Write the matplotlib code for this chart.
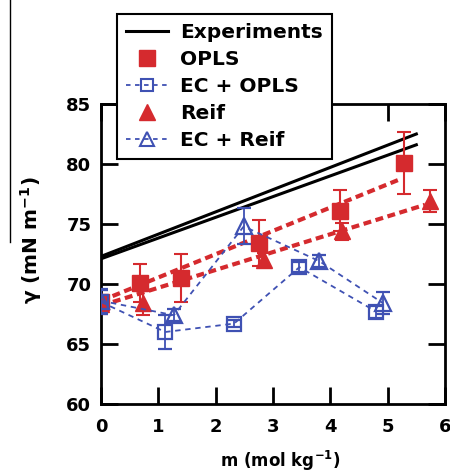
import matplotlib
matplotlib.use("Agg")
import matplotlib.pyplot as plt
from matplotlib.lines import Line2D

plt.rcParams["font.family"] = ["DejaVu Sans"]
plt.rcParams["font.weight"] = "bold"
plt.rcParams["mathtext.fontset"] = "dejavusans"
plt.rcParams["mathtext.default"] = "bf"

RED = "#d52a2e"
BLUE = "#3f51b3"

# experiments: two straight lines
exp_x = [0.0, 5.5]
exp_a_y = [72.3, 82.5]
exp_b_y = [72.1, 81.6]

# OPLS
opls_x = [0.0, 0.68, 1.40, 2.76, 4.16, 5.29]
opls_y = [68.5, 70.1, 70.5, 73.4, 76.1, 80.1]
opls_err = [1.0, 1.6, 2.0, 1.9, 1.7, 2.6]
opls_fit_x = [0.0, 5.2]
opls_fit_y = [68.6, 78.7]

# Reif
reif_x = [0.0, 0.74, 2.84, 4.21, 5.73]
reif_y = [68.3, 68.4, 72.0, 74.4, 76.9]
reif_err = [0.8, 1.0, 0.6, 0.7, 0.9]
reif_fit_x = [0.0, 5.65]
reif_fit_y = [68.2, 76.6]

# EC + OPLS
ec_opls_x = [0.0, 1.12, 2.32, 3.46, 4.80]
ec_opls_y = [68.5, 66.0, 66.7, 71.4, 67.7]
ec_opls_err = [1.0, 1.4, 0.3, 0.4, 0.5]

# EC + Reif
ec_reif_x = [0.0, 1.27, 2.49, 3.81, 4.92]
ec_reif_y = [68.6, 67.4, 74.8, 71.9, 68.4]
ec_reif_err = [1.0, 0.5, 1.5, 0.5, 0.9]

x_ticks = [0, 1, 2, 3, 4, 5, 6]
y_ticks = [60, 65, 70, 75, 80, 85]

fig = plt.figure(figsize=(4.5, 4.74), dpi=100)
ax = fig.add_axes([101 / 450, 1 - 404 / 474, 344 / 450, 300 / 474])

# experiment lines
ax.plot(exp_x, exp_a_y, color="black", lw=2.2, zorder=3)
ax.plot(exp_x, exp_b_y, color="black", lw=2.2, zorder=3)

# linear fits through the simulation points
ax.plot(opls_fit_x, opls_fit_y, color=RED, lw=3, dashes=(1.9, 1.1), zorder=2)
ax.plot(reif_fit_x, reif_fit_y, color=RED, lw=3, dashes=(1.9, 1.1), zorder=2)

# filled red markers
ax.errorbar(opls_x, opls_y, yerr=opls_err, fmt="s", ms=11, color=RED,
            ecolor=RED, elinewidth=1.5, capsize=5, capthick=1.5, zorder=4)
ax.errorbar(reif_x, reif_y, yerr=reif_err, fmt="^", ms=11, color=RED,
            ecolor=RED, elinewidth=1.5, capsize=5, capthick=1.5, zorder=4)

# open blue markers with dashed connectors
ax.errorbar(ec_opls_x, ec_opls_y, yerr=ec_opls_err, fmt="s", ms=10,
            mfc="none", mec=BLUE, mew=1.6, color=BLUE, ls=(0, (3.0, 2.6)),
            lw=1.3, ecolor=BLUE, elinewidth=1.3, capsize=5, capthick=1.3,
            zorder=5)
ax.errorbar(ec_reif_x, ec_reif_y, yerr=ec_reif_err, fmt="^", ms=11,
            mfc="none", mec=BLUE, mew=1.6, color=BLUE, ls=(0, (3.0, 2.6)),
            lw=1.3, ecolor=BLUE, elinewidth=1.3, capsize=5, capthick=1.3,
            zorder=5)

ax.set_xlim(0, 6)
ax.set_ylim(60, 85)
ax.set_xticks(x_ticks)
ax.set_yticks(y_ticks)
ax.tick_params(direction="in", length=12, width=2, top=True, right=True,
               labelsize=13)
ax.tick_params(axis="x", pad=10)
ax.tick_params(axis="y", pad=7)
for sp in ax.spines.values():
    sp.set_linewidth(2)

ax.set_xlabel("m (mol kg$^{-1}$)", fontsize=12, fontweight="bold")
ax.set_ylabel("\u03b3 (mN m$^{-1}$)", fontsize=14.5, fontweight="bold")
ax.xaxis.set_label_coords(0.52, -0.15)
ax.yaxis.set_label_coords(-0.165, 0.547)

handles = [
    Line2D([], [], color="black", lw=2.2),
    Line2D([], [], color=RED, marker="s", ms=11, ls="none"),
    Line2D([], [], color=BLUE, marker="s", ms=9, mfc="none", mew=1.5,
           ls=(0, (2.5, 2.5)), lw=1.3),
    Line2D([], [], color=RED, marker="^", ms=11, ls="none"),
    Line2D([], [], color=BLUE, marker="^", ms=10, mfc="none", mew=1.5,
           ls=(0, (2.5, 2.5)), lw=1.3),
]
labels = ["Experiments", "OPLS", "EC + OPLS", "Reif", "EC + Reif"]
leg = ax.legend(handles, labels, loc="upper left",
                bbox_to_anchor=(117 / 450, 1 - 14 / 474),
                bbox_transform=fig.transFigure, borderaxespad=0,
                prop={"size": 14.5, "weight": "bold"}, handlelength=2.1,
                handletextpad=0.6, labelspacing=0.4, borderpad=0.45,
                fancybox=False, framealpha=1, edgecolor="black")
leg.get_frame().set_linewidth(1.5)
leg.set_zorder(10)

# stray vertical rule at the far left of the original scan
fig.add_artist(Line2D([10 / 450, 10 / 450], [1, 1 - 242 / 474],
                      transform=fig.transFigure, color="black", lw=1))

fig.savefig("out.png", dpi=100)
